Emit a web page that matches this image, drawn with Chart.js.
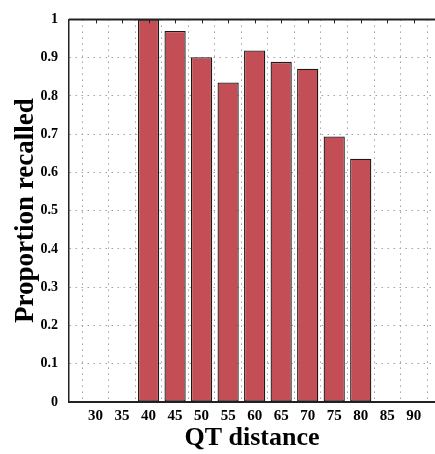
<!DOCTYPE html>
<html>
<head>
<meta charset="utf-8">
<script src="https://cdn.jsdelivr.net/npm/chart.js@4.4.1/dist/chart.umd.min.js"></script>
<style>
  html, body { margin: 0; padding: 0; background: #fff; overflow: hidden; }
  #wrap { width: 435px; height: 454px; }
</style>
</head>
<body>
<div id="wrap"><canvas id="chart" width="435" height="454"></canvas></div>
<script>
// ---------------------------
// Data
// ---------------------------
const qtDistance = [30, 35, 40, 45, 50, 55, 60, 65, 70, 75, 80, 85, 90];
const proportionRecalled = [0, 0, 1.0, 0.970, 0.901, 0.835, 0.919, 0.889, 0.871, 0.694, 0.636, 0, 0];
const xTicks = [30, 35, 40, 45, 50, 55, 60, 65, 70, 75, 80, 85, 90];
const yTicks = [0, 0.1, 0.2, 0.3, 0.4, 0.5, 0.6, 0.7, 0.8, 0.9, 1];

const FONT = "'Liberation Serif', 'Times New Roman', serif";

// top frame line with small inward ticks
const topFrame = {
    id: "topFrame",
    afterDraw(chart) {
        const { ctx, chartArea } = chart;
        const x = chart.scales.x;
        ctx.save();
        ctx.strokeStyle = "#222";
        ctx.lineWidth = 2;
        ctx.beginPath();
        ctx.moveTo(chartArea.left, chartArea.top);
        ctx.lineTo(chartArea.right, chartArea.top);
        ctx.stroke();
        ctx.lineWidth = 1;
        ctx.beginPath();
        xTicks.forEach(v => {
            const px = Math.round(x.getPixelForValue(v)) + 0.5;
            ctx.moveTo(px, chartArea.top);
            ctx.lineTo(px, chartArea.top + 4);
        });
        ctx.stroke();
        ctx.restore();
    }
};

const ctx = document.getElementById("chart").getContext("2d");
new Chart(ctx, {
    type: "bar",
    data: {
        datasets: [{
            data: qtDistance.map((q, i) => ({ x: q, y: proportionRecalled[i] })),
            backgroundColor: "#c44e55",
            borderColor: "#1a1a1a",
            borderWidth: 1.3,
            borderSkipped: false,
            barPercentage: 0.8,
            categoryPercentage: 1.0
        }]
    },
    plugins: [topFrame],
    options: {
        responsive: false,
        animation: false,
        layout: { padding: { left: 0, right: 0, top: 11, bottom: 0 } },
        plugins: {
            legend: { display: false },
            tooltip: { enabled: false }
        },
        scales: {
            x: {
                type: "linear",
                min: 25,
                max: 94,
                offset: false,
                afterBuildTicks: s => { s.ticks = xTicks.map(v => ({ value: v })); },
                afterFit: s => { s.height = 52; },
                grid: {
                    color: "#a0a0a0",
                    lineWidth: 1,
                    drawTicks: false
                },
                border: { display: true, color: "#222", width: 2, dash: [1.5, 4.5] },
                ticks: {
                    color: "#000",
                    padding: 5,
                    maxRotation: 0,
                    font: { family: FONT, size: 15, weight: "bold" }
                },
                title: {
                    display: true,
                    text: "QT distance",
                    color: "#000",
                    padding: { top: 0, bottom: 0 },
                    font: { family: FONT, size: 26, weight: "bold" }
                }
            },
            y: {
                min: 0,
                max: 1,
                afterBuildTicks: s => { s.ticks = yTicks.map(v => ({ value: v })); },
                afterFit: s => { s.width = 69; },
                grid: {
                    color: "#a0a0a0",
                    lineWidth: 1,
                    drawTicks: false
                },
                border: { display: true, color: "#222", width: 1.5, dash: [1.5, 4.5] },
                ticks: {
                    color: "#000",
                    padding: 11,
                    callback: v => String(Math.round(v * 10) / 10),
                    font: { family: FONT, size: 14, weight: "bold" }
                },
                title: {
                    display: true,
                    text: "Proportion recalled",
                    color: "#000",
                    padding: { top: 10, bottom: 0 },
                    font: { family: FONT, size: 27, weight: "bold" }
                }
            }
        }
    }
});
</script>
</body>
</html>
